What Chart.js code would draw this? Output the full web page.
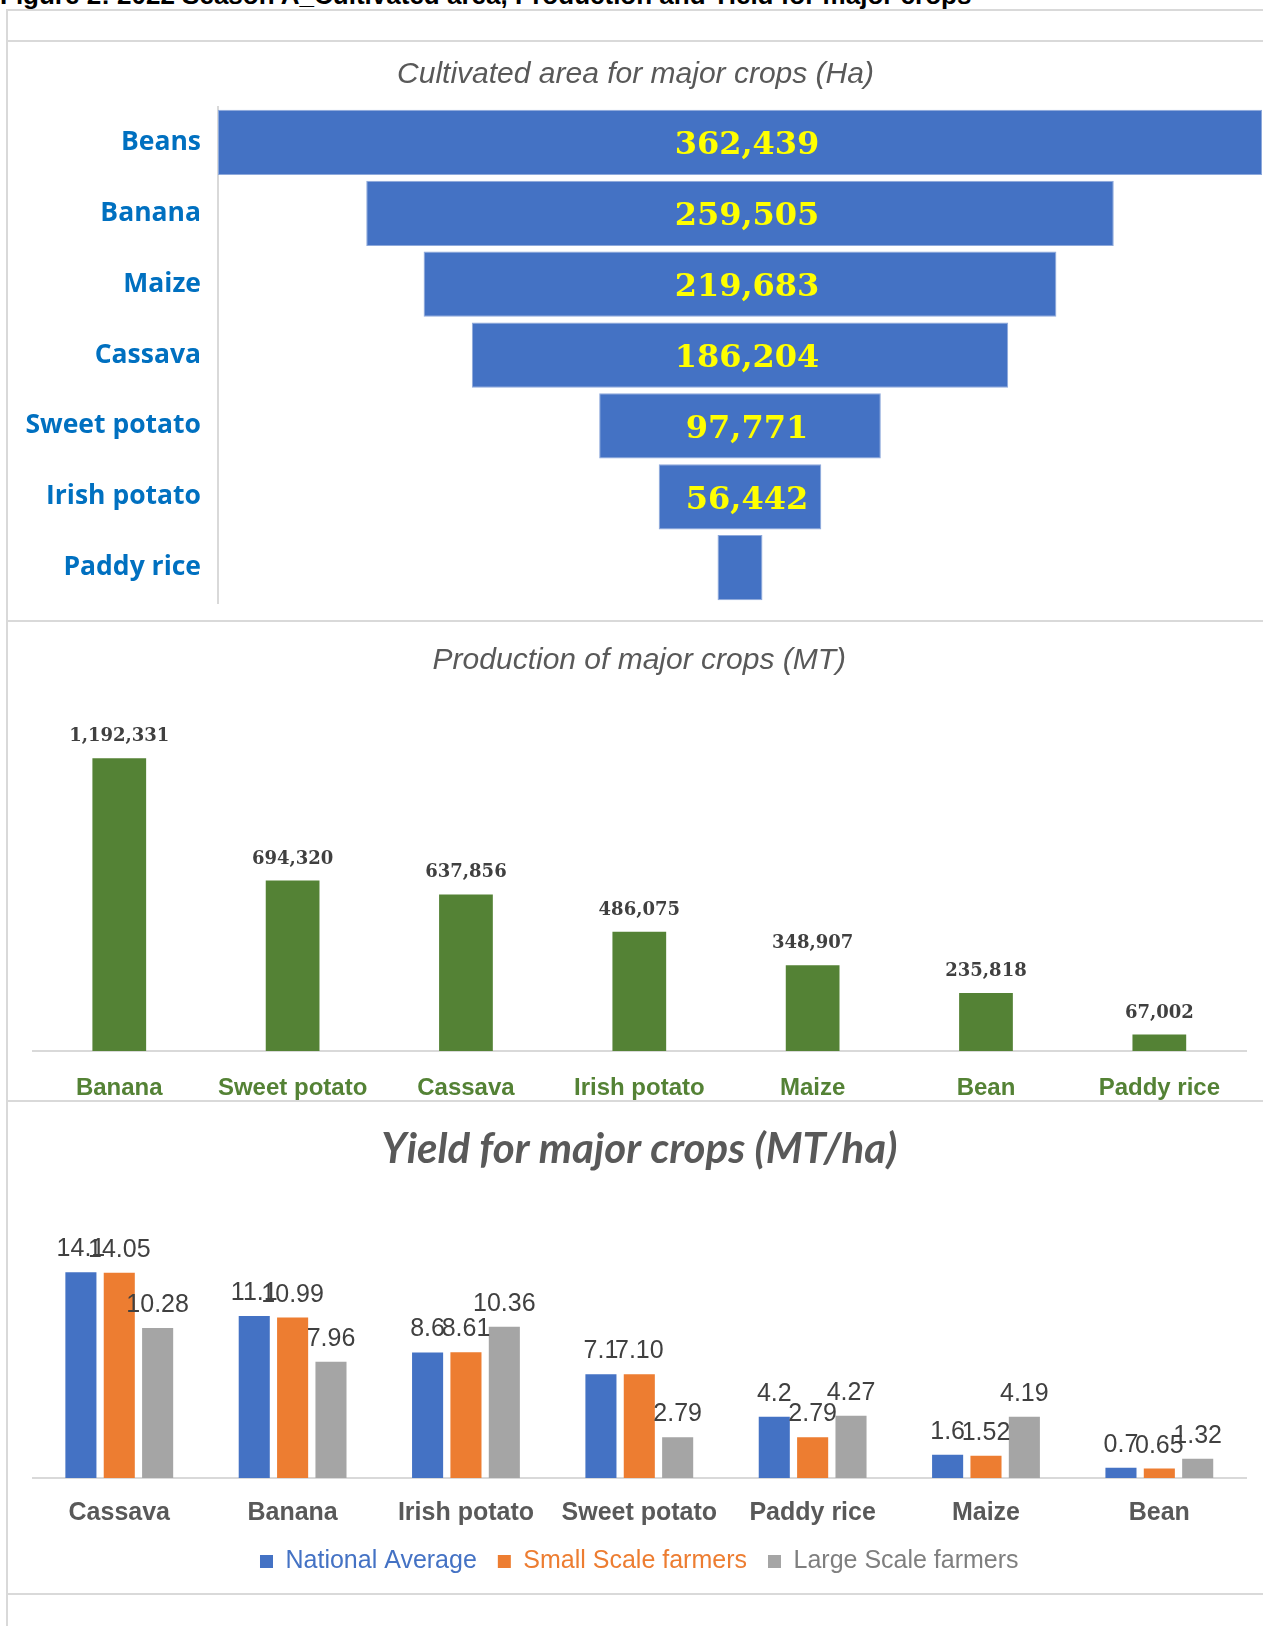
<!DOCTYPE html>
<html>
<head>
<meta charset="utf-8">
<script src="https://cdn.jsdelivr.net/npm/chart.js@4.4.1/dist/chart.umd.min.js"></script>
<style>
  body { margin: 0; width: 1263px; height: 1626px; overflow: hidden; background: #fff; position: relative; }
  .caption { position: absolute; left: 0; top: -18px; font: bold 26px/26px 'Liberation Sans', Arial, sans-serif; white-space: nowrap; color: #000; }
  .hl { position: absolute; left: 6px; right: 0; height: 2px; background: #d9d9d9; z-index: 2; }
  .vl { position: absolute; left: 6px; top: 9px; width: 2px; bottom: 0; background: #d9d9d9; z-index: 2; }
  canvas { position: absolute; left: 9px; }
</style>
</head>
<body>
<div class="caption">Figure 2: 2022 Season A_Cultivated area, Production and Yield for major crops</div>
<div class="hl" style="top:9px"></div>
<div class="hl" style="top:40px"></div>
<div class="hl" style="top:620px"></div>
<div class="hl" style="top:1100px"></div>
<div class="hl" style="top:1593px"></div>
<div class="vl"></div>

<canvas id="areaChart" width="1254" height="593" style="top:43px"></canvas>
<canvas id="prodChart" width="1254" height="481" style="top:622px"></canvas>
<canvas id="yieldChart" width="1254" height="482" style="top:1102px"></canvas>

<script>
// cultivated area (Ha) - funnel
const areaCrops = ['Beans', 'Banana', 'Maize', 'Cassava', 'Sweet potato', 'Irish potato', 'Paddy rice'];
const areaHa = [362439, 259505, 219683, 186204, 97771, 56442, 15600];
const areaNoLabel = ['Paddy rice'];

// production (MT)
const prodCrops = ['Banana', 'Sweet potato', 'Cassava', 'Irish potato', 'Maize', 'Bean', 'Paddy rice'];
const prodMT = [1192331, 694320, 637856, 486075, 348907, 235818, 67002];

// yield (MT/ha)
const yieldCrops = ['Cassava', 'Banana', 'Irish potato', 'Sweet potato', 'Paddy rice', 'Maize', 'Bean'];
const yieldSeries = ['National Average', 'Small Scale farmers', 'Large Scale farmers'];
const yieldNational = [14.1, 11.1, 8.6, 7.1, 4.2, 1.6, 0.7];
const yieldSmall = [14.05, 10.99, 8.61, 7.10, 2.79, 1.52, 0.65];
const yieldLarge = [10.28, 7.96, 10.36, 2.79, 4.27, 4.19, 1.32];
const yieldDecimals = [1, 2, 2];

const ARIAL = "'Liberation Sans', Arial, sans-serif";
const SERIF = "'DejaVu Serif', 'Liberation Serif', serif";
const SANS2 = "'Open Sans', 'Noto Sans', sans-serif";

// draws text on each bar, position picked by the chart
function barLabels(id, font, color, place, text) {
    return {
        id: id,
        afterDatasetsDraw(chart) {
            const ctx = chart.ctx;
            ctx.save();
            ctx.font = font;
            ctx.fillStyle = color;
            ctx.textAlign = 'center';
            ctx.textBaseline = 'alphabetic';
            chart.data.datasets.forEach((ds, di) => {
                chart.getDatasetMeta(di).data.forEach((bar, i) => {
                    const t = text(ds, di, i);
                    if (!t) return;
                    const p = place(bar);
                    ctx.fillText(t, p.x, p.y);
                });
            });
            ctx.restore();
        }
    };
}

const areaMax = Math.max(...areaHa);

new Chart(document.getElementById('areaChart'), {
    type: 'bar',
    data: {
        labels: areaCrops,
        datasets: [{
            data: areaHa.map(v => [-v / 2, v / 2]),
            backgroundColor: '#4472C4',
            borderColor: '#8EA9DB',
            borderWidth: 1,
            borderSkipped: false,
            barPercentage: 0.92,
            categoryPercentage: 1
        }]
    },
    options: {
        indexAxis: 'y',
        animation: false,
        responsive: false,
        layout: { padding: { left: 0, right: 1, top: 0, bottom: 0 } },
        plugins: {
            legend: { display: false },
            tooltip: { enabled: false },
            title: {
                display: true,
                text: 'Cultivated area for major crops (Ha)',
                color: '#595959',
                font: { family: ARIAL, size: 30, style: 'italic', weight: 'normal', lineHeight: 1.2 },
                padding: { top: 13.6, bottom: 14.4 }
            }
        },
        scales: {
            x: { display: false, min: -areaMax / 2, max: areaMax / 2 },
            y: {
                grid: { display: false, drawTicks: false },
                border: { display: true, color: '#d9d9d9', width: 2 },
                ticks: { color: '#0070C0', padding: 17, font: { family: SANS2, size: 26.5, weight: 'bold', lineHeight: 1.2 } },
                afterFit(s) { s.width = 209; }
            }
        }
    },
    plugins: [barLabels('areaLabels', 'bold 32px ' + SERIF, '#FFFF00',
        bar => ({ x: (bar.x + bar.base) / 2 + 7, y: bar.y + 12 }),
        (ds, di, i) => areaNoLabel.includes(areaCrops[i]) ? '' : areaHa[i].toLocaleString('en-US'))]
});

new Chart(document.getElementById('prodChart'), {
    type: 'bar',
    data: {
        labels: prodCrops,
        datasets: [{
            data: prodMT,
            backgroundColor: '#548235',
            barPercentage: 0.31,
            categoryPercentage: 1
        }]
    },
    options: {
        animation: false,
        responsive: false,
        layout: { padding: { left: 23.6, right: 17, top: 0, bottom: 0 } },
        plugins: {
            legend: { display: false },
            tooltip: { enabled: false },
            title: {
                display: true,
                text: 'Production of major crops (MT)',
                color: '#595959',
                font: { family: ARIAL, size: 30, style: 'italic', weight: 'normal', lineHeight: 1.2 },
                padding: { top: 21, bottom: 21 }
            }
        },
        scales: {
            x: {
                grid: { display: false, drawTicks: false },
                border: { display: true, color: '#d9d9d9', width: 2 },
                ticks: { color: '#548235', padding: 25, maxRotation: 0, minRotation: 0, autoSkip: false,
                    font: { family: ARIAL, size: 24, weight: 'bold', lineHeight: 1 } },
                afterFit(s) { s.height = 52; }
            },
            y: { display: false, min: 0, max: 1430000 }
        }
    },
    plugins: [barLabels('prodLabels', 'bold 18px ' + SERIF, '#404040',
        bar => ({ x: bar.x, y: bar.y - 17 }),
        (ds, di, i) => prodMT[i].toLocaleString('en-US'))]
});

const yieldData = [yieldNational, yieldSmall, yieldLarge];
const yieldColors = ['#4472C4', '#ED7D31', '#A5A5A5'];
const yieldTextColors = ['#4472C4', '#ED7D31', '#7F7F7F'];

new Chart(document.getElementById('yieldChart'), {
    type: 'bar',
    data: {
        labels: yieldCrops,
        datasets: yieldSeries.map((name, k) => ({
            label: name,
            data: yieldData[k],
            backgroundColor: yieldColors[k],
            barPercentage: 0.81,
            categoryPercentage: 0.664
        }))
    },
    options: {
        animation: false,
        responsive: false,
        layout: { padding: { left: 23.6, right: 17, top: 0, bottom: 0 } },
        plugins: {
            tooltip: { enabled: false },
            title: {
                display: true,
                text: 'Yield for major crops (MT/ha)',
                color: '#595959',
                font: { family: "Lato, 'Open Sans', sans-serif", size: 42, style: 'italic', weight: 'bold', lineHeight: 1.1 },
                padding: { top: 24, bottom: 28.4 }
            },
            legend: {
                position: 'bottom',
                labels: {
                    boxWidth: 13,
                    boxHeight: 13,
                    padding: 21,
                    font: { family: ARIAL, size: 25 },
                    generateLabels: chart => chart.data.datasets.map((ds, i) => ({
                        text: ds.label,
                        fillStyle: ds.backgroundColor,
                        strokeStyle: ds.backgroundColor,
                        lineWidth: 0,
                        fontColor: yieldTextColors[i],
                        datasetIndex: i,
                        hidden: false
                    }))
                }
            }
        },
        scales: {
            x: {
                grid: { display: false, drawTicks: false },
                border: { display: true, color: '#d9d9d9', width: 2 },
                ticks: { color: '#595959', padding: 22.5, maxRotation: 0, minRotation: 0, autoSkip: false,
                    font: { family: ARIAL, size: 25, weight: 'bold', lineHeight: 1 } },
                afterFit(s) { s.height = 50; }
            },
            y: { display: false, min: 0, max: 19 }
        }
    },
    plugins: [barLabels('yieldLabels', '25px ' + ARIAL, '#404040',
        bar => ({ x: bar.x, y: bar.y - 16 }),
        (ds, di, i) => yieldData[di][i].toFixed(yieldDecimals[di]))]
});
</script>
</body>
</html>
